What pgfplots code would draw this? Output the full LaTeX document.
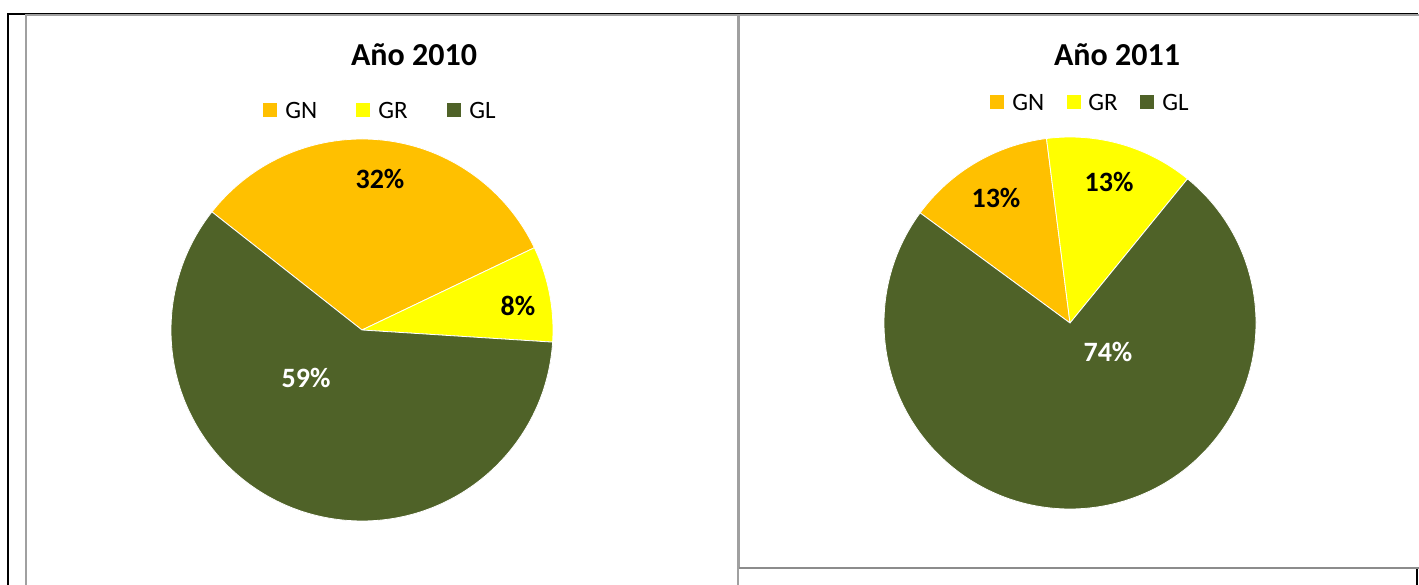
\documentclass[border=0pt]{standalone}
\usepackage{fontspec}
\setmainfont{Carlito}
\usepackage{pgfplots}
\usepackage{pgfplotstable}
\pgfplotsset{compat=1.18}
\definecolor{gn}{HTML}{FFC000}
\definecolor{gr}{HTML}{FFFF00}
\definecolor{gl}{HTML}{4F6228}
\definecolor{framegray}{HTML}{A0A0A0}
\definecolor{framedark}{HTML}{8C8C8C}

\pgfplotstableread{
name value pct col lx ly tc
GN 32.3 32 gn 0.094 0.791 black
GR 8.1 8 gr 0.817 0.126 black
GL 59.6 59 gl -0.293 -0.251 white
}\tabA
\pgfplotstableread{
name value pct col lx ly tc
GN 12.9 13 gn -0.398 0.672 black
GR 12.9 13 gr 0.210 0.758 black
GL 74.2 74 gl 0.204 -0.156 white
}\tabB

\newcommand\drawpie[3]{%
  \xdef\cura{#2}%
  \foreach \i in {0,1,2}{%
    \pgfplotstablegetelem{\i}{value}\of#1\let\pval\pgfplotsretval
    \pgfplotstablegetelem{\i}{col}\of#1\let\pcol\pgfplotsretval
    \pgfmathsetmacro\enda{\cura-3.6*\pval}%
    \fill[fill=\pcol, draw=white, line width=0.4pt] (axis cs:0,0) -- (axis cs:{cos(\cura)},{sin(\cura)}) arc[start angle=\cura, end angle=\enda, radius=#3] -- cycle;
    \xdef\cura{\enda}%
  }%
  \foreach \i in {0,1,2}{%
    \pgfplotstablegetelem{\i}{pct}\of#1\let\ppct\pgfplotsretval
    \pgfplotstablegetelem{\i}{lx}\of#1\let\plx\pgfplotsretval
    \pgfplotstablegetelem{\i}{ly}\of#1\let\ply\pgfplotsretval
    \pgfplotstablegetelem{\i}{tc}\of#1\let\ptc\pgfplotsretval
    \node[text=\ptc, inner sep=0pt, font=\bfseries\fontsize{14}{14}\selectfont] at (axis cs:\plx,\ply) {\ppct\%};
  }%
}

\begin{document}
\begin{tikzpicture}[x=0.5pt,y=0.5pt]
\useasboundingbox (0,0) rectangle (1419,584);
\coordinate (cA) at (362,254);
\coordinate (cB) at (1070,261);
\begin{scope}
\clip (0,0) rectangle (1419,584);
% outer black frame
\draw[black, line width=1pt] (8,-5) -- (8,570) -- (1417,570) -- (1417,-5);
% left panel
\fill[white] (26,-20) rectangle (738,569);
\draw[framegray, line width=1pt] (26,-20) -- (26,569) -- (738,569) -- (738,-20);
% right panel
\fill[white] (739,16) rectangle (1440,569);
\draw[framegray, line width=1pt] (1440,569) -- (739,569) -- (739,16);
\draw[framedark, line width=1pt] (739,16) -- (1440,16);
\end{scope}

% ---------- 2010 ----------
\node[font=\bfseries\fontsize{16}{16}\selectfont, inner sep=0pt] at (414,529) {Año 2010};
\fill[gn] (263,467) rectangle (277,481);
\node[anchor=west, inner sep=0pt, font=\fontsize{12.5}{13}\selectfont] at (285,474) {GN};
\fill[gr] (356,467) rectangle (370,481);
\node[anchor=west, inner sep=0pt, font=\fontsize{12.5}{13}\selectfont] at (378,474) {GR};
\fill[gl] (447,467) rectangle (461,481);
\node[anchor=west, inner sep=0pt, font=\fontsize{12.5}{13}\selectfont] at (469,474) {GL};

\begin{axis}[at={(cA)}, anchor=center, scale only axis,
  width=191pt, height=191pt, xmin=-1, xmax=1, ymin=-1, ymax=1,
  hide axis, clip=false]
\pgfplotsextra{\drawpie{\tabA}{141.8}{95.5pt}}
\end{axis}

% ---------- 2011 ----------
\node[font=\bfseries\fontsize{16}{16}\selectfont, inner sep=0pt] at (1117,529) {Año 2011};
\fill[gn] (990,475) rectangle (1004,489);
\node[anchor=west, inner sep=0pt, font=\fontsize{12.5}{13}\selectfont] at (1012,482) {GN};
\fill[gr] (1067,475) rectangle (1081,489);
\node[anchor=west, inner sep=0pt, font=\fontsize{12.5}{13}\selectfont] at (1088,482) {GR};
\fill[gl] (1140,475) rectangle (1154,489);
\node[anchor=west, inner sep=0pt, font=\fontsize{12.5}{13}\selectfont] at (1162,482) {GL};

\begin{axis}[at={(cB)}, anchor=center, scale only axis,
  width=186pt, height=186pt, xmin=-1, xmax=1, ymin=-1, ymax=1,
  hide axis, clip=false]
\pgfplotsextra{\drawpie{\tabB}{143.7}{93pt}}
\end{axis}
\end{tikzpicture}
\end{document}
